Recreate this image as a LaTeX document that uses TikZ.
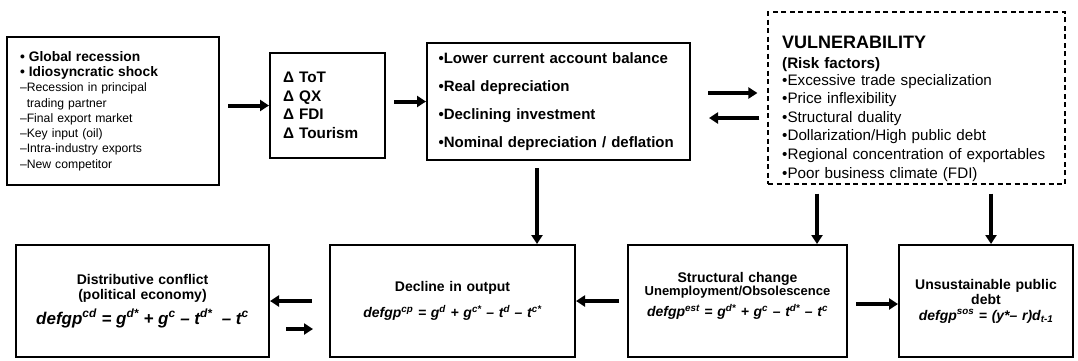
\documentclass[tikz,border=0pt]{standalone}
\usepackage{fontspec}
\setmainfont{Liberation Sans}
\usetikzlibrary{arrows.meta, positioning, calc}
\newcommand{\boxfont}[2]{\fontsize{#1}{#2}\selectfont}
\newcommand{\formulafont}{\bfseries\itshape}

\begin{document}
\begin{tikzpicture}[x=1pt, y=-1pt,
  box/.style={draw=black, line width=2pt, inner sep=0pt},
  leftbox/.style={box, align=left, inner xsep=13pt},
  midbox/.style={box, align=center, font=\bfseries\boxfont{14}{15.5}},
  vulbox/.style={draw=black, line width=1.2pt, dash pattern=on 5pt off 3.5pt},
  arr/.style={line width=4pt, -{Triangle[length=9pt, width=11pt]}}
]
  \useasboundingbox (0,0) rectangle (1078,360);

  \node[leftbox, text width=186pt, minimum height=148pt, font=\boxfont{12.2}{15.3}] (shock) at (113,111)
    {{\bfseries\boxfont{13.8}{15.3}• Global recession}\\
     {\bfseries\boxfont{13.8}{15.3}• Idiosyncratic shock}\\
     –Recession in principal\\
     \phantom{–}trading partner\\
     –Final export market\\
     –Key input (oil)\\
     –Intra-industry exports\\
     –New competitor};
  \node[leftbox, text width=89pt, minimum height=105pt, font=\bfseries\boxfont{15.3}{18.5}] (delta) at (327.5,105.5)
    {Δ ToT\\Δ QX\\Δ FDI\\Δ Tourism};
  \node[leftbox, inner xsep=11.5pt, text width=240pt, minimum height=117pt, font=\bfseries\boxfont{15}{28}] (effect) at (558.5,101.5)
    {•Lower current account balance\\•Real depreciation\\•Declining investment\\•Nominal depreciation / deflation};

  \node[vulbox, minimum width=297pt, minimum height=172pt] (vul) at (916.5,98) {};
  \node[anchor=north west, inner sep=0pt, text width=280pt, align=left, font=\boxfont{15.2}{18.6}] (risk) at (782,35.5)
    {{\bfseries\boxfont{18}{20}VULNERABILITY}\\[1.4pt]
     {\bfseries (Risk factors)}\\[-1.6pt]
     •Excessive trade specialization\\
     •Price inflexibility\\
     •Structural duality\\
     •Dollarization/High public debt\\
     •Regional concentration of exportables\\
     •Poor business climate (FDI)};

  \node[midbox, text width=243pt, minimum width=253pt, minimum height=112pt] (confl) at (142.5,301)
    {Distributive conflict\\(political economy)\\[5.5pt]
     {\formulafont\boxfont{17}{20}defgp\textsuperscript{cd} = g\textsuperscript{d*} + g\textsuperscript{c} – t\textsuperscript{d*} \ – t\textsuperscript{c}}};
  \node[midbox, text width=235pt, minimum width=245pt, minimum height=112pt] (outp) at (452.5,301)
    {Decline in output\\[10.5pt]
     {\formulafont\boxfont{14}{16}defgp\textsuperscript{cp} = g\textsuperscript{d} + g\textsuperscript{c*} – t\textsuperscript{d} – t\textsuperscript{c*}}};
  \node[midbox, text width=209pt, minimum width=219pt, minimum height=112pt] (struc) at (737.5,301)
    {Structural change\\[-2.5pt]
     {\boxfont{13}{14}Unemployment/Obsolescence}\\[6pt]
     {\formulafont defgp\textsuperscript{est} = g\textsuperscript{d*} + g\textsuperscript{c} – t\textsuperscript{d*} – t\textsuperscript{c}}\\[-2pt]\mbox{}};
  \node[midbox, text width=164pt, minimum width=174pt, minimum height=112pt] (debt) at (986,301)
    {Unsustainable public\\debt\\
     {\formulafont\boxfont{14}{16}defgp\textsuperscript{sos} = (y*– r)d\textsubscript{t-1}}};

  \coordinate (up) at ($(effect.east)+(0,-8.5)$);
  \coordinate (lo) at ($(effect.east)+(0,16.5)$);
  \coordinate (dn) at ($(effect.south)+(-21.5,0)$);
  \coordinate (vl) at ($(vul.south)+(-99.5,0)$);
  \coordinate (vr) at ($(vul.south)+(74.5,0)$);
  \coordinate (cl) at ($(confl.east)+(0,28)$);
  \coordinate (sr) at ($(struc.east)+(0,3)$);

  \draw[arr, shorten <=8pt] (shock.east |- delta.west) -- (delta.west);
  \draw[arr, shorten <=8pt] (delta.east |- effect.west) -- (effect.west);
  \draw[arr, shorten <=17pt, shorten >=10pt] (up) -- (up -| vul.west);
  \draw[arr, shorten <=8pt, shorten >=18pt] (lo -| vul.west) -- (lo);
  \draw[arr, shorten <=7pt] (dn) -- (dn |- outp.north);
  \draw[arr, shorten <=9pt] (vl) -- (vl |- struc.north);
  \draw[arr, shorten <=9pt] (vr) -- (vr |- debt.north);
  \draw[arr, shorten <=8pt] (struc.west) -- (struc.west -| outp.east);
  \draw[arr, shorten <=8pt] (sr) -- (sr -| debt.west);
  \draw[arr, shorten <=17pt] (outp.west) -- (outp.west -| confl.east);
  \draw[arr, shorten <=16pt, shorten >=16pt] (cl) -- (cl -| outp.west);
\end{tikzpicture}
\end{document}
